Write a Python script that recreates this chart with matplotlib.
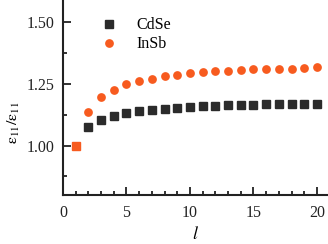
import numpy as np
import matplotlib.pyplot as plt

plt.rcParams['font.family'] = ['Liberation Serif', 'DejaVu Serif']
plt.rcParams['mathtext.fontset'] = 'stix'

# data
l = np.arange(1, 21)
cdse = [1.000, 1.073, 1.104, 1.121, 1.132, 1.140, 1.145, 1.149, 1.152, 1.154,
        1.160, 1.161, 1.163, 1.164, 1.165, 1.167, 1.167, 1.168, 1.168, 1.169]
insb = [1.000, 1.136, 1.195, 1.226, 1.249, 1.261, 1.271, 1.281, 1.287, 1.293,
        1.297, 1.300, 1.302, 1.305, 1.308, 1.309, 1.310, 1.311, 1.315, 1.316]

black = '#2b2b2b'
orange = '#f75b1f'

fig = plt.figure(figsize=(3.28, 2.44), dpi=100)
ax = fig.add_axes([0.192, 0.201, 0.808, 0.799])

ax.plot(l[1:], cdse[1:], 's', color=black, markersize=5.2, label='CdSe')
ax.plot(l[1:], insb[1:], 'o', color=orange, markersize=6.3,
        markeredgewidth=0, label='InSb')
# first point: both equal, drawn as an orange square
ax.plot(l[:1], cdse[:1], 's', color=orange, markersize=6)

ax.set_xlim(0, 20.87)
ax.set_ylim(0.8, 1.589)
ax.set_xticks([0, 5, 10, 15, 20])
ax.set_xticks(np.arange(0, 21), minor=True)
ax.set_yticks([1.00, 1.25, 1.50])
ax.set_yticks([0.875, 1.125, 1.375], minor=True)
ax.set_yticklabels(['1.00', '1.25', '1.50'])

for s in ['top', 'right']:
    ax.spines[s].set_visible(False)
for s in ['left', 'bottom']:
    ax.spines[s].set_linewidth(1.5)
    ax.spines[s].set_color('#222222')

ax.tick_params(which='major', direction='in', length=6, width=1.3,
               labelsize=11.5, pad=6, colors='#222222')
ax.tick_params(axis='x', which='major', pad=7)
ax.tick_params(which='minor', direction='in', length=3, width=1.3,
               colors='#222222')

ax.set_xlabel('$l$', fontsize=13, labelpad=4)
ax.set_ylabel(r'$\mathrm{\varepsilon_{11}/\varepsilon_{11}}$', fontsize=11.5)
ax.yaxis.set_label_coords(-0.155, 0.37)

ax.legend(loc='upper left', bbox_to_anchor=(0.09, 0.985), frameon=False,
          fontsize=11.5, handletextpad=1.2, labelspacing=0.2,
          handlelength=1.0)

fig.savefig('out.png', dpi=100)
